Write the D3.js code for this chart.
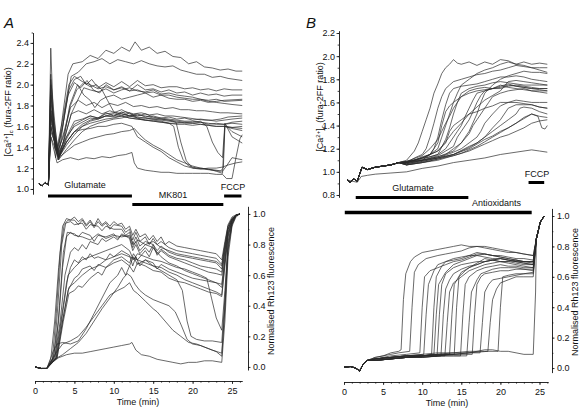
<!DOCTYPE html>
<html><head><meta charset="utf-8">
<script src="https://cdn.jsdelivr.net/npm/d3@7"></script>
<style>body{margin:0;background:#fff}svg{display:block}text{font-family:"Liberation Sans",Arial,sans-serif;fill:#111}</style>
</head><body>
<script>
// ---------------- DATA ----------------
const timeTicks = [0, 5, 10, 15, 20, 25];
const caA_ticks = [1.0, 1.2, 1.4, 1.6, 1.8, 2.0, 2.2, 2.4];
const caB_ticks = [0.8, 1.0, 1.2, 1.4, 1.6, 1.8, 2.0, 2.2];
const rh_ticks = [0.0, 0.2, 0.4, 0.6, 0.8, 1.0];

const barsA = [ {label:"Glutamate", t0:1.65, t1:12.3, row:0}, {label:"MK801", t0:12.35, t1:23.9, row:1}, {label:"FCCP", t0:24.0, t1:26.2, row:0} ];
const barsB = [ {label:"Glutamate", t0:1.5, t1:15.9}, {label:"FCCP", t0:23.6, t1:25.6}, {label:"Antioxidants", t0:0.1, t1:24.0} ];

// Panel A, [Ca2+]c traces: flat [time, ratio, time, ratio, ...]
const caA_start = [0.5,1.05, 0.9,1.03, 1.3,1.06, 1.7,1.04];
const caA_traces = [
 [2.0,2.35, 2.4,1.55, 2.9,1.32, 3.5,1.7, 4.2,2.1, 4.8,2.2, 6,2.22, 7,2.28, 8,2.25, 9,2.33, 10,2.3, 11,2.36, 12,2.32, 12.7,2.41, 13.5,2.33, 14.5,2.36, 15.5,2.3, 16.5,2.32, 17.5,2.27, 18.5,2.26, 19.5,2.2, 20.5,2.22, 21.5,2.17, 22.5,2.16, 23.5,2.14, 24.5,2.15, 25.5,2.13, 26.3,2.13],
 [2.0,2.1, 2.5,1.4, 3.0,1.3, 3.8,1.75, 4.6,2.08, 5.5,2.12, 6.5,2.2, 7.5,2.22, 8.5,2.25, 9.5,2.2, 10.5,2.24, 11.5,2.22, 12.5,2.2, 13.5,2.23, 14.5,2.2, 15.5,2.18, 16.5,2.17, 17.5,2.18, 18.5,2.14, 19.5,2.12, 20.5,2.1, 21.5,2.1, 22.5,2.07, 23.5,2.08, 24.5,2.06, 26.3,2.04],
 [2.0,1.95, 2.7,1.35, 3.5,1.6, 4.3,1.95, 5,2.05, 5.8,2.08, 6.5,2.0, 7.2,2.05, 8,1.97, 9,2.02, 10,1.98, 11,2.03, 12,1.98, 13,2.04, 14,1.99, 15,2.0, 16,1.97, 17,1.98, 18,1.98, 19,1.96, 20,1.97, 21,1.95, 22,1.96, 23,1.94, 24,1.96, 25,1.95, 26.3,1.95],
 [2.0,2.0, 2.6,1.3, 3.4,1.55, 4.2,1.9, 5,2.02, 5.8,1.97, 6.6,2.04, 7.4,1.95, 8.2,1.92, 9,2.0, 10,1.95, 11,1.98, 12,1.94, 13,2.0, 14,1.95, 15,1.96, 16,1.93, 17,1.95, 18,1.92, 19,1.93, 20,1.9, 21,1.92, 22,1.9, 23,1.91, 24,1.89, 25,1.9, 26.3,1.9],
 [2.0,1.8, 2.9,1.28, 3.6,1.45, 4.4,1.8, 5.4,2.0, 6.2,1.9, 7,1.85, 7.6,1.78, 8.3,1.85, 9,1.88, 10,1.9, 11,1.86, 12,1.88, 13,1.9, 14,1.92, 15,1.88, 16,1.9, 17,1.87, 18,1.86, 19,1.86, 20,1.84, 21,1.85, 22,1.83, 23,1.84, 24,1.85, 26.3,1.86],
 [2.0,1.7, 3.0,1.3, 3.8,1.5, 4.6,1.72, 5.4,1.85, 6.2,1.97, 7,1.95, 8,1.93, 9,1.96, 10,1.92, 11,1.95, 12,1.97, 13,1.94, 14,1.93, 15,1.95, 16,1.91, 17,1.92, 18,1.9, 19,1.89, 20,1.88, 21,1.86, 22,1.84, 23,1.83, 24,1.82, 25,1.81, 26.3,1.8],
 [2.0,1.7, 2.8,1.35, 3.6,1.5, 4.5,1.78, 5.5,1.85, 6.5,1.8, 7.5,1.83, 8.5,1.78, 9.5,1.82, 10.5,1.8, 11.5,1.83, 12.5,1.79, 13.5,1.8, 14.5,1.78, 15.5,1.79, 16.5,1.77, 17.5,1.78, 18.5,1.76, 19.5,1.76, 20.5,1.75, 21.5,1.75, 22.5,1.74, 23.5,1.73, 24.5,1.73, 26.3,1.72],
 [2.0,1.6, 3.0,1.3, 4,1.48, 5,1.62, 6,1.66, 7,1.7, 8,1.68, 9,1.73, 10,1.7, 11,1.74, 12,1.7, 13,1.72, 14,1.69, 15,1.7, 16,1.68, 17,1.69, 18,1.67, 19,1.68, 20,1.66, 21,1.67, 22,1.66, 23,1.65, 24,1.66, 25,1.67, 26.3,1.68],
 [2.0,1.75, 3.0,1.28, 4,1.5, 5,1.65, 6,1.67, 7,1.7, 8,1.68, 9,1.72, 10,1.73, 11,1.76, 12,1.72, 13,1.7, 14,1.72, 15,1.69, 16,1.67, 17,1.66, 18,1.65, 19,1.64, 20,1.63, 21,1.64, 22,1.62, 23,1.63, 24,1.62, 25,1.64, 26.3,1.65],
 [2.0,1.65, 3.0,1.32, 4,1.45, 5,1.55, 6,1.62, 7,1.66, 8,1.68, 9,1.7, 10,1.72, 11,1.7, 12,1.73, 13,1.68, 14,1.66, 15,1.65, 16,1.64, 17,1.63, 18,1.62, 19,1.62, 20,1.61, 21,1.62, 22,1.61, 23,1.6, 24,1.6, 25,1.59, 26.3,1.6],
 [2.0,1.85, 2.9,1.35, 3.7,1.55, 4.5,1.8, 5.3,1.95, 6.2,2.02, 7,1.98, 7.8,2.0, 8.5,1.95, 9.2,1.85, 10,1.74, 11,1.72, 12,1.7, 13,1.69, 14,1.68, 15,1.67, 16,1.66, 17,1.65, 18,1.64, 19,1.63, 20,1.63, 21,1.62, 22,1.61, 23,1.6, 24,1.6, 25,1.59, 26.3,1.58],
 [2.0,1.7, 3.0,1.3, 4,1.42, 5,1.52, 6,1.6, 7,1.63, 8,1.65, 9,1.67, 10,1.68, 11,1.7, 12,1.68, 13,1.67, 14,1.66, 15,1.66, 16,1.65, 17,1.63, 17.6,1.6, 18.2,1.4, 18.8,1.28, 19.5,1.22, 20.5,1.2, 21.5,1.19, 22.5,1.18, 23.5,1.17, 23.9,1.2, 24.1,1.6, 25,1.58, 26.3,1.56],
 [2.0,1.6, 3.0,1.28, 4,1.38, 5,1.47, 6,1.55, 7,1.6, 8,1.63, 9,1.65, 10,1.67, 11,1.68, 12,1.7, 13,1.68, 14,1.68, 15,1.67, 16,1.67, 17,1.66, 17.9,1.64, 18.5,1.45, 19.2,1.27, 20,1.2, 21,1.2, 22,1.19, 23,1.17, 23.8,1.15, 24.1,1.62, 25,1.55, 26.3,1.5],
 [2.0,1.75, 3.0,1.3, 4,1.45, 5,1.55, 6,1.6, 7,1.65, 8,1.67, 9,1.7, 10,1.69, 11,1.7, 12,1.68, 13,1.67, 14,1.66, 15,1.65, 16,1.64, 17,1.63, 18,1.63, 19,1.64, 20,1.64, 21,1.65, 21.8,1.6, 22.5,1.45, 23.2,1.35, 23.8,1.3, 24.1,1.63, 25,1.5, 26.3,1.44],
 [2.0,1.5, 3.0,1.3, 4,1.36, 5,1.42, 6,1.45, 7,1.48, 8,1.5, 9,1.52, 10,1.53, 11,1.55, 12,1.56, 12.6,1.58, 13.3,1.52, 14,1.47, 15,1.42, 16,1.38, 17,1.33, 18,1.28, 19,1.25, 20,1.22, 21,1.2, 22,1.19, 23,1.18, 23.8,1.17, 24.3,1.22, 25,1.3, 26.3,1.28],
 [2.0,1.5, 2.8,1.25, 3.5,1.28, 4.5,1.3, 5.5,1.28, 6.5,1.3, 7.5,1.29, 8.5,1.31, 9.5,1.3, 10.5,1.32, 11.5,1.33, 12.3,1.35, 12.6,1.25, 13,1.2, 14,1.18, 15,1.17, 16,1.16, 17,1.16, 18,1.15, 19,1.15, 20,1.15, 21,1.15, 22,1.15, 23,1.14, 23.8,1.14, 24.3,1.1, 25,1.1, 25.5,1.3, 26,1.48, 26.3,1.52],
 [2.0,1.6, 3.0,1.3, 4,1.45, 5,1.55, 6,1.57, 7,1.58, 8,1.6, 9,1.6, 10,1.62, 11,1.63, 12.3,1.6, 13,1.5, 14,1.45, 15,1.4, 16,1.36, 17,1.3, 18,1.26, 19,1.22, 20,1.2, 21,1.19, 22,1.2, 23,1.2, 23.8,1.21, 24.5,1.23, 25.5,1.25, 26.3,1.26],
 [2.0,1.55, 3.0,1.35, 4,1.5, 5,1.6, 6,1.64, 7,1.68, 8,1.67, 9,1.7, 10,1.7, 11,1.72, 12,1.7, 13,1.71, 14,1.7, 15,1.68, 16,1.68, 17,1.67, 18,1.66, 19,1.65, 20,1.65, 21,1.64, 22,1.63, 23,1.62, 24,1.62, 25,1.63, 26.3,1.62],
 [2.0,2.05, 2.8,1.4, 3.6,1.7, 4.3,2.0, 5,2.08, 6,2.03, 7,2.0, 8,1.96, 9,1.98, 10,1.95, 11,1.97, 12,1.94, 13,1.95, 14,1.92, 15,1.93, 16,1.9, 17,1.9, 18,1.88, 19,1.87, 20,1.86, 21,1.86, 22,1.85, 23,1.86, 24,1.84, 26.3,1.85],
 [2.0,1.9, 3.0,1.32, 3.8,1.5, 4.6,1.72, 5.5,1.75, 6.5,1.72, 7.5,1.76, 8.5,1.72, 9.5,1.75, 10.5,1.72, 11.5,1.74, 12.5,1.72, 13.5,1.73, 14.5,1.71, 15.5,1.72, 16.5,1.7, 17.5,1.7, 18.5,1.69, 19.5,1.68, 20.5,1.67, 21.5,1.66, 22.5,1.66, 23.5,1.67, 24.5,1.69, 26.3,1.7]
];

// Panel A, Rh123 traces
const rhA_start = [0,0.0, 0.8,-0.01, 1.5,-0.01];
const rhA_traces = [
 [2.0,0.05, 2.5,0.3, 3.0,0.65, 3.5,0.92, 4,0.97, 4.5,0.96, 5,0.98, 5.5,0.95, 6,0.97, 6.5,0.93, 7,0.96, 7.5,0.92, 8,0.97, 8.5,0.93, 9,0.95, 9.5,0.92, 10,0.95, 10.5,0.93, 11,0.94, 11.5,0.9, 12,0.92, 12.4,0.86, 12.8,0.9, 13.3,0.85, 14,0.87, 14.5,0.83, 15,0.86, 15.5,0.82, 16,0.85, 16.5,0.8, 17,0.82, 18,0.79, 19,0.78, 20,0.77, 21,0.76, 22,0.75, 23,0.74, 23.7,0.7, 24.1,0.82, 24.5,0.93, 25,0.98, 25.5,0.995, 26,1.0],
 [2.2,0.05, 2.7,0.35, 3.2,0.75, 3.7,0.93, 4.2,0.96, 5,0.96, 5.5,0.93, 6,0.96, 6.5,0.92, 7,0.95, 7.5,0.91, 8,0.95, 8.5,0.92, 9,0.94, 9.5,0.9, 10,0.93, 11,0.92, 11.5,0.88, 12,0.9, 12.4,0.83, 12.8,0.88, 13.3,0.82, 14,0.85, 14.5,0.8, 15,0.84, 15.5,0.8, 16,0.82, 17,0.78, 18,0.76, 19,0.75, 20,0.74, 21,0.73, 22,0.72, 23,0.71, 23.7,0.67, 24.1,0.8, 24.5,0.92, 25,0.97, 25.5,0.99, 26,1.0],
 [2.4,0.06, 2.9,0.4, 3.4,0.8, 3.9,0.94, 4.5,0.95, 5,0.93, 6,0.94, 6.5,0.9, 7,0.93, 8,0.92, 8.5,0.89, 9,0.92, 10,0.9, 11,0.9, 11.5,0.86, 12,0.88, 12.4,0.8, 12.8,0.85, 13.3,0.79, 14,0.82, 15,0.8, 15.5,0.76, 16,0.79, 17,0.75, 18,0.73, 19,0.72, 20,0.71, 21,0.7, 22,0.69, 23,0.68, 23.7,0.64, 24.1,0.78, 24.5,0.9, 25,0.97, 25.5,0.99, 26,1.0],
 [2.6,0.08, 3.1,0.4, 3.6,0.75, 4.1,0.88, 5,0.87, 5.5,0.85, 6,0.88, 7,0.86, 7.5,0.82, 8,0.86, 9,0.85, 10,0.87, 10.5,0.84, 11,0.86, 12,0.85, 12.4,0.78, 12.8,0.82, 13.3,0.76, 14,0.8, 15,0.78, 15.5,0.74, 16,0.77, 17,0.73, 18,0.71, 19,0.7, 20,0.68, 21,0.66, 22,0.65, 23,0.64, 23.7,0.62, 24.1,0.76, 24.5,0.9, 25,0.96, 25.5,0.99, 26,1.0],
 [2.5,0.06, 3.2,0.3, 3.8,0.6, 4.5,0.75, 5,0.78, 5.5,0.76, 6,0.8, 6.5,0.77, 7,0.82, 8,0.8, 8.5,0.84, 9,0.82, 10,0.85, 10.5,0.83, 11,0.87, 12,0.84, 12.4,0.76, 12.8,0.8, 13.3,0.74, 14,0.78, 14.5,0.75, 15,0.8, 15.5,0.73, 16,0.76, 17,0.72, 18,0.7, 19,0.68, 20,0.66, 21,0.64, 22,0.62, 23,0.61, 23.7,0.6, 24.1,0.75, 24.5,0.9, 25,0.96, 25.5,0.99, 26,1.0],
 [2.6,0.06, 3.3,0.3, 4,0.55, 4.5,0.65, 5,0.7, 5.5,0.68, 6,0.72, 6.5,0.7, 7,0.74, 7.5,0.71, 8,0.72, 9,0.7, 9.5,0.74, 10,0.72, 11,0.76, 12,0.73, 12.4,0.66, 12.8,0.72, 13.3,0.66, 14,0.7, 15,0.68, 15.5,0.64, 16,0.67, 17,0.64, 18,0.62, 19,0.6, 20,0.58, 21,0.57, 22,0.56, 23,0.55, 23.7,0.54, 24.1,0.72, 24.5,0.88, 25,0.96, 25.5,0.99, 26,1.0],
 [2.7,0.06, 3.5,0.3, 4.2,0.5, 5,0.58, 5.5,0.6, 6,0.64, 7,0.66, 7.5,0.63, 8,0.67, 9,0.65, 10,0.7, 11,0.72, 12,0.68, 12.5,0.74, 13,0.7, 14,0.76, 14.5,0.72, 15,0.78, 16,0.72, 17,0.68, 18,0.66, 19,0.63, 20,0.61, 21,0.59, 22,0.57, 23,0.55, 23.7,0.52, 24.1,0.7, 24.5,0.87, 25,0.95, 25.5,0.99, 26,1.0],
 [2.8,0.06, 3.6,0.3, 4.3,0.48, 5,0.5, 5.5,0.53, 6,0.52, 7,0.58, 8,0.62, 8.5,0.6, 9,0.65, 10,0.68, 11,0.7, 12,0.66, 12.5,0.72, 13,0.67, 14,0.7, 15,0.66, 16,0.65, 17,0.62, 18,0.6, 19,0.57, 20,0.55, 21,0.53, 22,0.51, 23,0.49, 23.7,0.47, 24.1,0.68, 24.5,0.86, 25,0.95, 25.5,0.99, 26,1.0],
 [2.7,0.06, 3.5,0.35, 4.2,0.6, 5,0.65, 6,0.7, 7,0.72, 8,0.74, 9,0.76, 10,0.78, 11,0.8, 12,0.76, 12.5,0.7, 13,0.74, 14,0.72, 15,0.7, 16,0.69, 17,0.67, 18,0.65, 19,0.64, 20,0.62, 21,0.6, 21.8,0.58, 22.4,0.45, 23,0.32, 23.7,0.24, 24.1,0.5, 24.5,0.82, 25,0.94, 25.5,0.99, 26,1.0],
 [2.8,0.06, 3.5,0.3, 4.3,0.52, 5,0.55, 6,0.6, 7,0.64, 8,0.66, 9,0.7, 10,0.72, 11,0.74, 12,0.72, 13,0.7, 14,0.68, 15,0.66, 16,0.63, 17,0.6, 18,0.57, 18.7,0.5, 19.3,0.3, 19.8,0.2, 20.5,0.18, 21.5,0.17, 22.5,0.17, 23.7,0.16, 24.1,0.45, 24.5,0.8, 25,0.94, 25.5,0.99, 26,1.0],
 [2.5,0.08, 3.5,0.15, 4.5,0.17, 5.5,0.2, 6.5,0.26, 7.5,0.33, 8.5,0.4, 9.5,0.47, 10.5,0.5, 11.3,0.52, 12,0.55, 12.5,0.5, 13,0.48, 14,0.43, 15,0.38, 15.5,0.36, 16.5,0.3, 17.5,0.24, 18.5,0.2, 19.5,0.16, 20.5,0.15, 21.5,0.13, 22.5,0.11, 23.7,0.09, 24.1,0.4, 24.5,0.78, 25,0.93, 25.5,0.99, 26,1.0],
 [2.5,0.05, 3.5,0.08, 4.5,0.12, 5.5,0.16, 6.5,0.22, 7.5,0.3, 8.5,0.38, 9.5,0.45, 10.5,0.52, 11.2,0.58, 11.7,0.61, 12.2,0.59, 12.7,0.54, 13.3,0.5, 14,0.47, 15,0.44, 16,0.42, 17,0.4, 17.8,0.36, 18.5,0.28, 19.3,0.18, 20,0.15, 21,0.14, 22,0.12, 23,0.1, 23.7,0.07, 24.1,0.38, 24.5,0.76, 25,0.93, 25.5,0.99, 26,1.0],
 [2.2,0.03, 3,0.06, 4,0.08, 5,0.09, 6,0.09, 7,0.1, 8,0.11, 9,0.12, 10,0.13, 11,0.14, 12,0.15, 12.3,0.16, 12.8,0.11, 13.5,0.08, 14.5,0.07, 15.5,0.05, 16.5,0.04, 17.5,0.03, 18.5,0.02, 19.5,0.03, 20.5,0.03, 21.5,0.04, 22.5,0.04, 23.7,0.03, 24.1,0.3, 24.5,0.72, 25,0.92, 25.5,0.98, 26,1.0],
 [2.3,0.1, 2.8,0.15, 3.5,0.16, 4.5,0.15, 5.5,0.17, 6.5,0.25, 7.5,0.35, 8.5,0.45, 9.5,0.55, 10.5,0.6, 11,0.65, 11.5,0.6, 12,0.66, 12.5,0.62, 13,0.68, 14,0.66, 15,0.63, 16,0.62, 17,0.58, 18,0.56, 19,0.55, 20,0.53, 21,0.51, 22,0.49, 23,0.48, 23.7,0.46, 24.1,0.66, 24.5,0.85, 25,0.95, 25.5,0.99, 26,1.0],
 [2.3,0.06, 3,0.3, 3.5,0.65, 4,0.85, 4.5,0.88, 5,0.86, 6,0.85, 7,0.83, 8,0.87, 9,0.84, 10,0.86, 11,0.85, 12,0.86, 12.5,0.8, 13,0.83, 14,0.8, 15,0.82, 16,0.78, 17,0.76, 18,0.74, 19,0.73, 20,0.72, 21,0.71, 22,0.7, 23,0.69, 23.7,0.66, 24.1,0.8, 24.5,0.92, 25,0.97, 25.5,0.99, 26,1.0]
];

// Panel B, [Ca2+]c traces
const caB_start = [0.4,0.93, 0.8,0.91, 1.2,0.94, 1.7,0.92, 2.0,0.98, 2.3,1.04, 3,1.02, 4,1.04, 5,1.05, 6,1.06, 7,1.08];
const caB_traces = [
 [8,1.1, 9,1.18, 9.5,1.25, 10,1.35, 10.5,1.45, 11,1.55, 11.5,1.68, 12,1.76, 12.5,1.85, 13,1.9, 13.5,1.93, 14,1.97, 14.5,1.94, 15,1.93, 16,1.95, 17,1.92, 18,1.95, 19,1.93, 20,1.97, 21,1.96, 22,1.93, 23,1.95, 24,1.93, 25,1.94, 26,1.93],
 [8,1.08, 9,1.12, 10,1.15, 10.5,1.2, 11,1.3, 11.5,1.42, 12,1.55, 12.5,1.65, 13,1.72, 13.5,1.75, 14,1.78, 15,1.8, 16,1.82, 17,1.84, 18,1.85, 19,1.87, 20,1.88, 21,1.9, 22,1.92, 23,1.91, 24,1.9, 25,1.9, 26,1.9],
 [8,1.09, 9,1.1, 10,1.12, 11,1.15, 12,1.2, 12.5,1.3, 13,1.4, 13.5,1.5, 14,1.6, 14.5,1.68, 15,1.75, 16,1.8, 17,1.85, 18,1.88, 19,1.9, 20,1.93, 21,1.95, 22,1.93, 23,1.92, 24,1.9, 25,1.88, 26,1.86],
 [8,1.08, 9,1.1, 10,1.1, 11,1.15, 11.5,1.2, 12,1.3, 12.5,1.45, 13,1.58, 13.5,1.68, 14,1.72, 15,1.74, 16,1.75, 17,1.76, 18,1.78, 19,1.8, 20,1.82, 21,1.82, 22,1.83, 23,1.82, 24,1.8, 25,1.79, 26,1.78],
 [8,1.08, 9,1.1, 10,1.12, 11,1.13, 12,1.15, 13,1.28, 13.5,1.38, 14,1.5, 14.5,1.6, 15,1.68, 16,1.72, 17,1.74, 18,1.75, 19,1.77, 20,1.78, 21,1.77, 22,1.76, 23,1.75, 24,1.75, 25,1.75, 26,1.75],
 [8,1.08, 10,1.11, 12,1.15, 13,1.2, 13.5,1.25, 14.5,1.35, 15,1.4, 15.5,1.48, 16,1.55, 16.5,1.62, 17,1.68, 18,1.7, 19,1.72, 20,1.73, 21,1.75, 22,1.74, 23,1.73, 24,1.72, 25,1.72, 26,1.72],
 [8,1.08, 10,1.1, 12,1.14, 13,1.18, 14,1.22, 14.5,1.3, 15,1.35, 16,1.45, 16.5,1.52, 17,1.6, 17.5,1.66, 18,1.7, 19,1.72, 20,1.75, 21,1.73, 22,1.72, 23,1.71, 24,1.7, 25,1.7, 26,1.7],
 [8,1.07, 10,1.1, 12,1.13, 13,1.15, 14,1.2, 15,1.25, 16,1.33, 16.5,1.4, 17,1.45, 17.5,1.5, 18,1.55, 18.5,1.6, 19,1.65, 20,1.68, 21,1.7, 22,1.71, 23,1.72, 24,1.7, 25,1.69, 26,1.68],
 [8,1.07, 10,1.1, 12,1.12, 14,1.17, 15,1.2, 16,1.25, 17,1.3, 17.5,1.35, 18,1.42, 19,1.5, 20,1.57, 21,1.6, 22,1.62, 23,1.61, 24,1.6, 25,1.6, 26,1.6],
 [8,1.07, 10,1.09, 12,1.12, 14,1.15, 16,1.22, 17,1.25, 18,1.3, 19,1.38, 20,1.45, 20.5,1.5, 21,1.55, 22,1.58, 23,1.58, 24,1.58, 25,1.56, 26,1.55],
 [8,1.06, 10,1.09, 12,1.12, 14,1.15, 15,1.18, 16,1.21, 17,1.25, 18,1.3, 19,1.35, 20,1.4, 21,1.45, 22,1.5, 22.5,1.55, 23,1.56, 24,1.55, 25,1.52, 26,1.5],
 [8,1.06, 10,1.08, 12,1.11, 14,1.14, 15,1.16, 16,1.19, 17,1.22, 18,1.26, 19,1.3, 20,1.34, 21,1.38, 22,1.42, 23,1.47, 24,1.5, 24.8,1.48, 25.3,1.38, 25.7,1.37, 26,1.4],
 [8,1.06, 10,1.08, 12,1.11, 14,1.15, 16,1.2, 17,1.24, 18,1.28, 19,1.31, 20,1.35, 21,1.38, 22,1.42, 23,1.46, 24,1.5, 25,1.48, 26,1.47],
 [8,1.06, 10,1.08, 12,1.1, 14,1.14, 16,1.18, 18,1.24, 19,1.27, 20,1.3, 21,1.32, 22,1.35, 23,1.38, 24,1.42, 25,1.44, 26,1.45],
 [8,1.08, 10,1.12, 11,1.15, 12,1.18, 13,1.26, 14,1.35, 15,1.42, 16,1.5, 17,1.56, 18,1.62, 19,1.66, 20,1.7, 20.5,1.74, 21,1.78, 22,1.79, 23,1.78, 24,1.77, 25,1.76, 26,1.75],
 [8,1.09, 10,1.14, 11,1.2, 12,1.28, 12.5,1.35, 13,1.42, 13.5,1.48, 14,1.55, 15,1.65, 16,1.68, 17,1.7, 18,1.71, 19,1.72, 20,1.74, 21,1.76, 22,1.74, 23,1.73, 24,1.72, 25,1.71, 26,1.7],
 [8,1.09, 10,1.12, 11,1.15, 12,1.18, 13,1.25, 13.5,1.35, 14,1.4, 15,1.45, 16,1.5, 17,1.52, 18,1.55, 19,1.57, 20,1.6, 21,1.6, 22,1.6, 23,1.59, 24,1.58, 25,1.56, 26,1.55],
 [8,1.09, 9,1.1, 10,1.13, 11,1.15, 11.5,1.2, 12,1.25, 12.5,1.4, 13,1.52, 13.5,1.57, 14,1.6, 15,1.65, 16,1.7, 17,1.72, 18,1.73, 19,1.72, 20,1.72, 21,1.74, 22,1.75, 23,1.74, 24,1.73, 25,1.72, 26,1.72],
 [8,1.08, 10,1.1, 12,1.13, 14,1.18, 15,1.25, 16,1.35, 17,1.5, 17.5,1.6, 18,1.68, 19,1.75, 20,1.8, 21,1.83, 22,1.85, 23,1.87, 24,1.86, 25,1.86, 26,1.85]
];
const caB_low = [0.4,0.93, 1.0,0.92, 1.7,0.91, 2.2,0.96, 3,0.97, 4,0.98, 6,0.99, 8,1.0, 10,1.03, 12,1.05, 14,1.08, 16,1.1, 18,1.12, 20,1.15, 22,1.17, 24,1.19, 25,1.18, 26,1.17];

// Panel B, Rh123 traces
const rhB_start = [0,0.005, 0.8,0.01, 1.5,0.0, 2,-0.02, 2.5,0.03, 3,0.05];
const rhB_end = [24.6,0.85, 25.1,0.96, 25.6,1.0];
const rhB_traces = [
 [4,0.07, 5,0.08, 6,0.1, 7,0.11, 7.3,0.12, 7.6,0.45, 7.9,0.62, 8.5,0.7, 9,0.73, 10,0.76, 11,0.77, 12,0.78, 13,0.79, 14,0.8, 15,0.81, 16,0.8, 17,0.8, 18,0.79, 19,0.78, 20,0.77, 21,0.76, 22,0.76, 23,0.75, 24.2,0.74],
 [4,0.07, 5,0.08, 6,0.09, 7,0.1, 8.4,0.11, 8.7,0.4, 9,0.63, 9.5,0.68, 10.5,0.72, 12,0.74, 13,0.75, 14,0.76, 15,0.77, 16,0.79, 17,0.8, 18,0.8, 19,0.79, 20,0.78, 21,0.77, 22,0.76, 23,0.75, 24.2,0.74],
 [4,0.06, 5,0.07, 6,0.08, 8,0.09, 9.7,0.1, 10,0.4, 10.3,0.6, 11,0.64, 12,0.66, 13,0.68, 14,0.7, 15,0.71, 16,0.73, 17,0.75, 18,0.75, 19,0.74, 20,0.73, 21,0.72, 22,0.71, 23,0.7, 24.2,0.7],
 [4,0.06, 6,0.07, 8,0.08, 10.2,0.09, 10.5,0.35, 10.8,0.55, 11.5,0.64, 12,0.68, 13,0.7, 14,0.71, 15,0.72, 16,0.74, 17,0.76, 18,0.75, 19,0.74, 20,0.74, 21,0.73, 22,0.72, 23,0.72, 24.2,0.71],
 [4,0.06, 6,0.07, 8,0.08, 10,0.08, 11.2,0.09, 11.5,0.4, 11.8,0.6, 12.5,0.67, 13,0.7, 14,0.72, 15,0.73, 16,0.74, 17,0.74, 18,0.73, 19,0.72, 20,0.72, 21,0.71, 22,0.7, 23,0.7, 24.2,0.69],
 [4,0.05, 6,0.06, 8,0.07, 10,0.08, 11.9,0.08, 12.2,0.35, 12.5,0.55, 13,0.62, 14,0.66, 15,0.68, 16,0.69, 17,0.7, 18,0.7, 19,0.71, 20,0.7, 21,0.7, 22,0.69, 23,0.68, 24.2,0.68],
 [4,0.05, 6,0.06, 8,0.07, 10,0.07, 12.4,0.08, 12.7,0.35, 13,0.52, 13.5,0.58, 14,0.62, 15,0.65, 16,0.67, 17,0.68, 18,0.7, 19,0.71, 20,0.72, 21,0.71, 22,0.7, 23,0.69, 24.2,0.68],
 [4,0.06, 6,0.07, 8,0.08, 10,0.08, 12.9,0.08, 13.2,0.3, 13.5,0.5, 14,0.56, 15,0.6, 16,0.64, 17,0.66, 18,0.68, 19,0.69, 20,0.7, 21,0.7, 22,0.71, 23,0.7, 24.2,0.7],
 [4,0.05, 6,0.06, 8,0.07, 10,0.08, 12,0.08, 13.5,0.09, 13.8,0.35, 14.1,0.55, 15,0.63, 16,0.66, 17,0.68, 18,0.7, 19,0.71, 20,0.72, 21,0.71, 22,0.7, 23,0.69, 24.2,0.68],
 [4,0.06, 6,0.07, 8,0.08, 10,0.08, 12,0.09, 14.1,0.09, 14.4,0.4, 14.7,0.6, 15.5,0.64, 16,0.66, 17,0.69, 18,0.72, 19,0.71, 20,0.7, 21,0.69, 22,0.68, 23,0.67, 24.2,0.66],
 [4,0.05, 6,0.06, 8,0.07, 10,0.07, 12,0.08, 14,0.08, 14.9,0.08, 15.2,0.35, 15.5,0.55, 16,0.6, 17,0.64, 18,0.66, 19,0.67, 20,0.68, 21,0.67, 22,0.67, 23,0.66, 24.2,0.66],
 [4,0.05, 6,0.06, 8,0.07, 10,0.07, 12,0.08, 14,0.08, 15.7,0.08, 16,0.3, 16.3,0.5, 17,0.58, 17.5,0.62, 18,0.63, 19,0.65, 20,0.66, 21,0.66, 22,0.66, 23,0.65, 24.2,0.65],
 [4,0.06, 6,0.07, 8,0.08, 10,0.08, 12,0.09, 14,0.09, 16.4,0.09, 16.7,0.35, 17,0.55, 17.5,0.6, 18,0.62, 19,0.63, 20,0.64, 21,0.64, 22,0.65, 23,0.65, 24.2,0.64],
 [4,0.05, 6,0.06, 8,0.07, 10,0.08, 12,0.09, 14,0.09, 16,0.1, 17.4,0.1, 17.7,0.3, 18,0.5, 18.5,0.55, 19,0.58, 20,0.59, 21,0.6, 22,0.61, 23,0.62, 24.2,0.62],
 [4,0.05, 6,0.06, 8,0.07, 10,0.08, 12,0.09, 14,0.1, 16,0.1, 18.4,0.11, 18.7,0.3, 19,0.45, 19.5,0.52, 20,0.56, 21,0.58, 22,0.6, 23,0.6, 24.2,0.6],
 [4,0.06, 6,0.07, 8,0.08, 10,0.09, 12,0.1, 14,0.1, 16,0.11, 18,0.11, 19.7,0.11, 20,0.4, 20.3,0.6, 21,0.61, 22,0.62, 23,0.62, 24.2,0.63],
 [4,0.05, 6,0.06, 8,0.07, 10,0.08, 12,0.08, 14,0.09, 16,0.1, 17,0.11, 18,0.12, 19,0.12, 20,0.11, 21,0.11, 22,0.1, 23,0.09, 24.2,0.09, 24.5,0.5],
 [4,0.06, 6,0.07, 8,0.08, 10,0.08, 11.5,0.09, 11.8,0.35, 12.1,0.55, 13,0.63, 14,0.68, 15,0.7, 16,0.72, 17,0.74, 18,0.75, 19,0.74, 20,0.73, 21,0.72, 22,0.71, 23,0.7, 24.2,0.7]
];

// ---------------- DRAW ----------------
const svg = d3.select("body").append("svg").attr("width", 585).attr("height", 413);
const FS = 9;
function pairs(a){ const r=[]; for(let i=0;i<a.length;i+=2) r.push([a[i],a[i+1]]); return r; }
function steps(a,b,s){ const r=[]; for(let v=a; v<=b+1e-9; v+=s) r.push(+v.toFixed(2)); return r; }

function traces(g, list, x, y){
  const line = d3.line().x(d=>x(d[0])).y(d=>y(d[1]));
  g.selectAll(null).data(list).join("path")
    .attr("d", d=>line(pairs(d))).attr("fill","none")
    .attr("stroke","#2a2a2a").attr("stroke-width",0.7).attr("stroke-linejoin","round");
}
function styleAxis(g){
  g.selectAll("path.domain").attr("stroke","#111").attr("stroke-width",0.9);
  g.selectAll(".tick line").attr("stroke","#111").attr("stroke-width",0.8);
  g.selectAll("text").attr("font-size",FS).attr("font-family","Liberation Sans, Arial, sans-serif").attr("fill","#111");
}
function axisPair(mk, sel, major, minor, fmt, size){
  const gMin = sel.append("g").call(mk().tickValues(minor).tickFormat("").tickSize(size*0.55).tickSizeOuter(0));
  gMin.select("path.domain").remove();
  styleAxis(gMin);
  const gMaj = sel.append("g").call(mk().tickValues(major).tickFormat(fmt).tickSize(size).tickPadding(1.5).tickSizeOuter(0));
  styleAxis(gMaj);
  return gMaj;
}
const f1 = d3.format(".1f");

function bar(x0,x1,y,h){ svg.append("rect").attr("x",x0).attr("y",y-h/2).attr("width",x1-x0).attr("height",h).attr("fill","#000"); }
function label(txt,x,y,anchor){ return svg.append("text").attr("x",x).attr("y",y).attr("text-anchor",anchor||"middle").attr("font-size",FS).text(txt); }
function caTitle(x,yc){
  const t = svg.append("text").attr("transform",`translate(${x},${yc}) rotate(-90)`).attr("text-anchor","middle").attr("font-size",FS);
  t.append("tspan").text("[Ca");
  t.append("tspan").attr("font-size",6).attr("dy",-3.5).text("2+");
  t.append("tspan").attr("dy",3.5).text("]");
  t.append("tspan").attr("font-size",6).attr("dy",2).text("c");
  t.append("tspan").attr("dy",-2).text(" (fura-2FF ratio)");
}
function rhTitle(x,yc){
  svg.append("text").attr("transform",`translate(${x},${yc}) rotate(-90)`).attr("text-anchor","middle").attr("font-size",FS).text("Normalised Rh123 fluorescence");
}

// ----- Panel A -----
const xA = d3.scaleLinear().domain([0, 26.3]).range([35, 35 + 26.3*7.88]);
const yCaA = d3.scaleLinear().domain([0.95, 2.5]).range([194.2, 32.5]);
const yRhA = d3.scaleLinear().domain([-0.02, 1.05]).range([370, 206.3]);

traces(svg.append("g"), caA_traces.map(t=>caA_start.concat(t)), xA, yCaA);
traces(svg.append("g"), rhA_traces.map(t=>rhA_start.concat(t)), xA, yRhA);

axisPair(()=>d3.axisLeft(yCaA), svg.append("g").attr("transform","translate(33,0)"), caA_ticks, steps(1.0,2.5,0.1), f1, 2.5);
axisPair(()=>d3.axisRight(yRhA), svg.append("g").attr("transform","translate(248,0)"), rh_ticks, steps(0,1.0,0.1), f1, 2.5)
  .selectAll("text").attr("dx",1);
axisPair(()=>d3.axisBottom(xA), svg.append("g").attr("transform","translate(0,381)"), timeTicks, steps(0,26,1), d3.format("d"), 3)
  .selectAll("text").attr("dy","0.9em");

caTitle(11, 112);
rhTitle(274, 291);
label("Time (min)", 138, 405);
svg.append("text").attr("x",4).attr("y",28).attr("font-size",15).attr("font-style","italic").text("A");

const yBarA = [196, 204.5];
barsA.forEach(b=>bar(xA(b.t0), xA(b.t1), yBarA[b.row], 3));
label("Glutamate", 85, 188);
label("MK801", 173, 198);
label("FCCP", 233, 189.5);

// ----- Panel B -----
const xB = d3.scaleLinear().domain([0, 26.1]).range([344, 344 + 26.1*7.82]);
const yCaB = d3.scaleLinear().domain([0.78, 2.22]).range([197.3, 30.7]);
const yRhB = d3.scaleLinear().domain([-0.03, 1.05]).range([372.6, 208.4]);

traces(svg.append("g"), caB_traces.map(t=>caB_start.concat(t)).concat([caB_low]), xB, yCaB);
traces(svg.append("g"), rhB_traces.map(t=>rhB_start.concat(t, rhB_end)), xB, yRhB);

axisPair(()=>d3.axisLeft(yCaB), svg.append("g").attr("transform","translate(339,0)"), caB_ticks, steps(0.8,2.2,0.1), f1, 2.5);
axisPair(()=>d3.axisRight(yRhB), svg.append("g").attr("transform","translate(552,0)"), rh_ticks, steps(0,1.0,0.1), f1, 2.5)
  .selectAll("text").attr("dx",1);
axisPair(()=>d3.axisBottom(xB), svg.append("g").attr("transform","translate(0,382)"), timeTicks, steps(0,26,1), d3.format("d"), 3)
  .selectAll("text").attr("dy","0.9em");

caTitle(323, 107);
rhTitle(578, 292);
label("Time (min)", 447, 406);
svg.append("text").attr("x",306).attr("y",28).attr("font-size",15).attr("font-style","italic").text("B");

bar(xB(barsB[0].t0), xB(barsB[0].t1), 197.5, 3);
bar(xB(barsB[1].t0), xB(barsB[1].t1), 182.5, 3);
bar(xB(barsB[2].t0), xB(barsB[2].t1), 212.5, 3.5);
label("Glutamate", 413, 191);
label("FCCP", 537, 177);
label("Antioxidants", 472, 206, "start");
</script>
</body></html>
